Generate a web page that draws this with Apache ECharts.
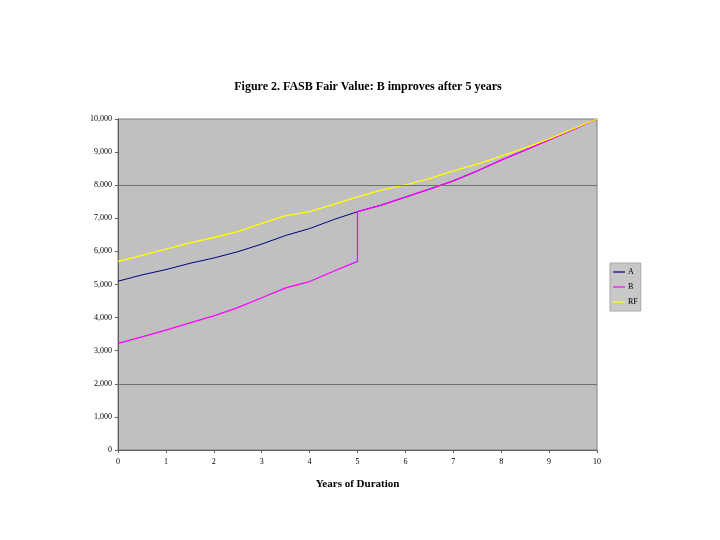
<!DOCTYPE html>
<html><head><meta charset="utf-8">
<script src="https://cdn.jsdelivr.net/npm/echarts@6/dist/echarts.min.js"></script>
<style>html,body{margin:0;padding:0;background:#fff}#c{width:720px;height:540px}</style>
</head><body><div id="c"></div>
<script>
const years = [0,0.5,1,1.5,2,2.5,3,3.5,4,4.5,5,5.5,6,6.5,7,7.5,8,8.5,9,9.5,10];
const valuesA = [5100,5290,5450,5640,5800,5990,6220,6480,6690,6960,7200,7400,7640,7880,8130,8430,8760,9060,9370,9680,10000];
const yearsB = [0,0.5,1,1.5,2,2.5,3,3.5,4,4.5,5,5,5.5,6,6.5,7,7.5,8,8.5,9,9.5,10];
const valuesB = [3220,3420,3620,3840,4050,4300,4600,4900,5090,5400,5700,7200,7400,7640,7880,8130,8430,8760,9060,9370,9680,10000];
const valuesRF = [5700,5880,6070,6260,6420,6600,6850,7080,7200,7420,7650,7850,8010,8200,8430,8640,8880,9130,9400,9700,10000];
const gridValues = [2000, 8000];

const pairs = (xs, ys) => xs.map((x, i) => [x, ys[i]]);
const fmt = v => v === 0 ? '0' : v.toLocaleString('en-US');
const chart = echarts.init(document.getElementById('c'));
chart.setOption({
  animation: false,
  backgroundColor: '#fff',
  title: {
    text: 'Figure 2. FASB Fair Value: B improves after 5 years',
    left: 363, top: 76, textAlign: 'center',
    textStyle: {fontFamily: 'Liberation Serif', fontSize: 12, fontWeight: 'bold', color: '#000'}
  },
  legend: {
    orient: 'vertical', left: 610, top: 263,
    data: ['A','B','RF'],
    icon: 'rect', itemWidth: 12, itemHeight: 1.2, itemGap: 7,
    backgroundColor: '#c8c8c8', borderColor: '#a8a8a8', borderWidth: 1,
    padding: [5,3,5,3],
    textStyle: {fontFamily: 'Liberation Serif', fontSize: 8, color: '#000', padding: [0,0,0,-2]}
  },
  grid: {left: 118, right: 123, top: 119, bottom: 90, show: true,
    backgroundColor: '#c0c0c0', borderColor: '#808080', borderWidth: 1},
  xAxis: {
    type: 'value', min: 0, max: 10, interval: 1,
    name: 'Years of Duration', nameLocation: 'middle', nameGap: 29,
    nameTextStyle: {fontFamily: 'Liberation Serif', fontSize: 11, fontWeight: 'bold', color: '#000'},
    axisLine: {lineStyle: {color: '#606060'}},
    axisTick: {show: true, length: 3, lineStyle: {color: '#606060'}},
    splitLine: {show: false},
    axisLabel: {fontFamily: 'Liberation Serif', fontSize: 8, color: '#000', margin: 8}
  },
  yAxis: {
    type: 'value', min: 0, max: 10000, interval: 1000,
    axisLine: {show: true, lineStyle: {color: '#606060'}},
    axisTick: {show: true, length: 3, lineStyle: {color: '#606060'}},
    splitLine: {show: false},
    axisLabel: {fontFamily: 'Liberation Serif', fontSize: 8, color: '#000', margin: 6, formatter: fmt}
  },
  series: [
    {name: 'A', type: 'line', data: pairs(years, valuesA), showSymbol: false, symbol: 'none',
      lineStyle: {color: '#000080', width: 1}, itemStyle: {color: '#000080'},
      markLine: {silent: true, symbol: 'none', label: {show: false},
        lineStyle: {color: '#707070', width: 1, type: 'solid'},
        data: gridValues.map(v => ({yAxis: v}))}},
    {name: 'B', type: 'line', data: pairs(yearsB, valuesB), showSymbol: false, symbol: 'none',
      lineStyle: {color: '#ff00ff', width: 1.3}, itemStyle: {color: '#ff00ff'}},
    {name: 'RF', type: 'line', data: pairs(years, valuesRF), showSymbol: false, symbol: 'none',
      lineStyle: {color: '#ffff00', width: 1.3}, itemStyle: {color: '#ffff00'}}
  ]
});
</script></body></html>
